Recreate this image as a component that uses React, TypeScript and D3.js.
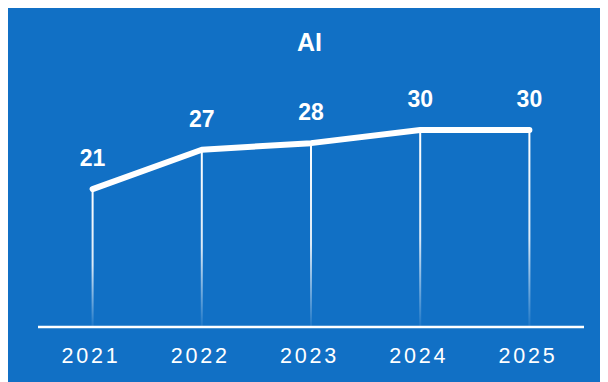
import React from "react";
import * as d3 from "d3";

const categories: string[] = ["2021", "2022", "2023", "2024", "2025"];
const values: number[] = [21, 27, 28, 30, 30];
const title = "AI";

const W = 600;
const H = 374;
const BG = "#1170C5";

export default function App() {
  const x = d3.scaleBand<string>().domain(categories).range([30, 576]);
  const y = d3.scaleLinear().domain([0, 30]).range([319, 122]);
  const pts: [number, number][] = categories.map((c, i) => [
    (x(c) as number) + x.bandwidth() / 2,
    y(values[i]),
  ]);
  const line = d3.line<[number, number]>().x((d) => d[0]).y((d) => d[1]);
  const font = "'Liberation Sans', Arial, sans-serif";
  return (
    <svg width={W} height={H} style={{ display: "block" }}>
      <defs>
        <linearGradient id="vg" x1="0" y1="0" x2="0" y2="1">
          <stop offset="0%" stopColor="#fff" stopOpacity={1} />
          <stop offset="55%" stopColor="#fff" stopOpacity={0.85} />
          <stop offset="100%" stopColor="#fff" stopOpacity={0.05} />
        </linearGradient>
      </defs>
      <rect x={0} y={0} width={W} height={H} fill={BG} />
      <text
        x={W / 2 + 1.5}
        y={43}
        textAnchor="middle"
        fill="#fff"
        fontFamily={font}
        fontWeight="bold"
        fontSize={25}
      >
        {title}
      </text>
      {pts.map((p, i) => (
        <rect
          key={"v" + i}
          x={p[0] - 1}
          y={p[1]}
          width={2}
          height={y(0) - p[1]}
          fill="url(#vg)"
        />
      ))}
      <line x1={30} x2={576} y1={y(0)} y2={y(0)} stroke="#fff" strokeWidth={2.5} />
      <path
        d={line(pts) || ""}
        fill="none"
        stroke="#fff"
        strokeWidth={6}
        strokeLinecap="round"
        strokeLinejoin="round"
      />
      {pts.map((p, i) => (
        <text
          key={"l" + i}
          x={p[0]}
          y={p[1] - 23}
          textAnchor="middle"
          fill="#fff"
          fontFamily={font}
          fontWeight="bold"
          fontSize={23}
        >
          {values[i]}
        </text>
      ))}
      {categories.map((c) => (
        <text
          key={"c" + c}
          x={(x(c) as number) + x.bandwidth() / 2 - 1.5}
          y={355}
          textAnchor="middle"
          fill="#fff"
          fontFamily={font}
          fontSize={21.5}
          letterSpacing={2.8}
        >
          {c}
        </text>
      ))}
    </svg>
  );
}
